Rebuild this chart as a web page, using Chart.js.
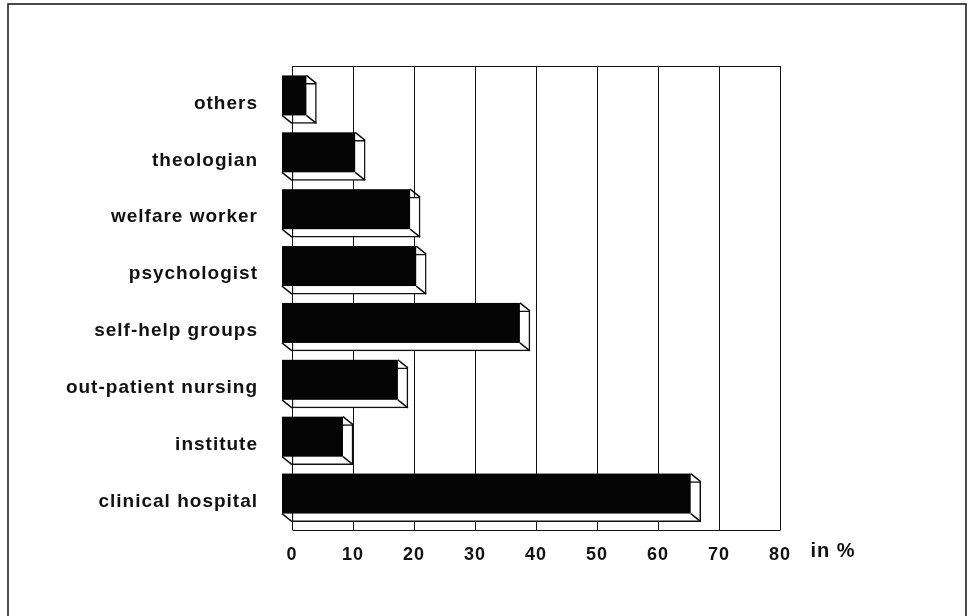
<!DOCTYPE html>
<html>
<head>
<meta charset="utf-8">
<script src="https://cdn.jsdelivr.net/npm/chart.js@4"></script>
<style>
  html, body { margin: 0; padding: 0; background: #fff; }
  #wrap { width: 975px; height: 616px; position: relative; }
</style>
</head>
<body>
<div id="wrap"><canvas id="chart"></canvas></div>
<script>
// categories top to bottom, share in %
const categories = [
  'others',
  'theologian',
  'welfare worker',
  'psychologist',
  'self-help groups',
  'out-patient nursing',
  'institute',
  'clinical hospital',
];
const shares = [4, 12, 21, 22, 39, 19, 10, 67];
const xMin = 0;
const xMax = 80;
const xStep = 10;
const unitLabel = 'in %';

const DEPTH_X = 10;
const DEPTH_Y = 8;
const INK = '#111';

function spacing(chart) {
  chart.ctx.letterSpacing = '1px';
}

// page frame + grid (with the 3d top band) behind the bars
const gridPlugin = {
  id: 'grid3d',
  beforeLayout: spacing,
  beforeDraw(chart) {
    spacing(chart);
    const ctx = chart.ctx;
    ctx.save();
    ctx.strokeStyle = INK;
    ctx.lineWidth = 1.5;
    ctx.beginPath();
    ctx.moveTo(8, 616);
    ctx.lineTo(8, 4);
    ctx.lineTo(966, 4);
    ctx.lineTo(966, 616);
    ctx.stroke();
    ctx.restore();
  },
  beforeDatasetsDraw(chart) {
    const { ctx, chartArea: a, scales: { x } } = chart;
    const top = a.top - DEPTH_Y - 1;
    ctx.save();
    ctx.strokeStyle = INK;
    ctx.lineWidth = 1;
    ctx.beginPath();
    x.ticks.forEach((t) => {
      const px = Math.round(x.getPixelForValue(t.value)) + 0.5;
      ctx.moveTo(px, top);
      ctx.lineTo(px, a.bottom);
    });
    const l = Math.round(x.getPixelForValue(xMin)) + 0.5;
    const r = Math.round(x.getPixelForValue(xMax)) + 0.5;
    ctx.moveTo(l, Math.round(top) + 0.5);
    ctx.lineTo(r, Math.round(top) + 0.5);
    ctx.moveTo(l, Math.round(a.bottom) + 0.5);
    ctx.lineTo(r, Math.round(a.bottom) + 0.5);
    ctx.stroke();

    // unit label right of the last tick
    ctx.fillStyle = INK;
    ctx.font = 'bold 20px "Liberation Sans", Arial, sans-serif';
    ctx.textAlign = 'left';
    ctx.textBaseline = 'alphabetic';
    ctx.fillText(unitLabel, r + 30, a.bottom + 27);
    ctx.restore();
  },
  // dark front face and connecting edges, offset up-left from the bar
  afterDatasetsDraw(chart) {
    const ctx = chart.ctx;
    const meta = chart.getDatasetMeta(0);
    ctx.save();
    meta.data.forEach((bar) => {
      const { x, y, base, height } = bar.getProps(['x', 'y', 'base', 'height'], true);
      const t = y - height / 2;
      const b = y + height / 2;
      ctx.strokeStyle = INK;
      ctx.lineWidth = 1.5;
      ctx.beginPath();
      ctx.moveTo(x - DEPTH_X, t - DEPTH_Y);
      ctx.lineTo(x, t);
      ctx.moveTo(base - DEPTH_X, b - DEPTH_Y);
      ctx.lineTo(base, b);
      ctx.moveTo(x - DEPTH_X, b - DEPTH_Y);
      ctx.lineTo(x, b);
      ctx.stroke();
      ctx.fillStyle = '#050505';
      ctx.fillRect(base - DEPTH_X, t - DEPTH_Y, x - base, height);
    });
    ctx.restore();
  },
};

new Chart(document.getElementById('chart'), {
  type: 'bar',
  data: {
    labels: categories,
    datasets: [
      {
        data: shares,
        backgroundColor: '#fff',
        borderColor: INK,
        borderWidth: 1.5,
        borderSkipped: false,
        barThickness: 40,
      },
    ],
  },
  options: {
    indexAxis: 'y',
    responsive: true,
    maintainAspectRatio: false,
    animation: false,
    layout: { padding: { top: 75, right: 195, bottom: 45, left: 0 } },
    plugins: { legend: { display: false }, tooltip: { enabled: false } },
    scales: {
      x: {
        min: xMin,
        max: xMax,
        grid: { display: false, drawTicks: false },
        border: { display: false },
        ticks: {
          stepSize: xStep,
          padding: 14,
          color: INK,
          font: { family: '"Liberation Sans", Arial, sans-serif', size: 18, weight: 'bold' },
        },
        afterFit(scale) {
          scale.height = 41;
        },
      },
      y: {
        grid: { display: false, drawTicks: false },
        border: { display: false },
        ticks: {
          padding: 34,
          color: INK,
          font: { family: '"Liberation Sans", Arial, sans-serif', size: 19, weight: 'bold' },
        },
        afterFit(scale) {
          scale.width = 292;
        },
      },
    },
  },
  plugins: [gridPlugin],
});
</script>
</body>
</html>
